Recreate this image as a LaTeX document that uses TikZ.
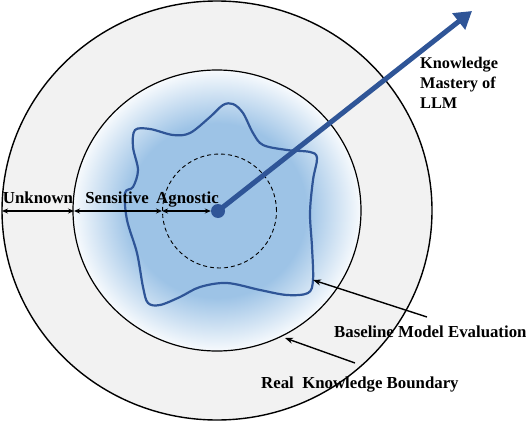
\documentclass[tikz,border=0pt]{standalone}
\usepackage{fontspec}
\setmainfont{Liberation Serif}
\usetikzlibrary{arrows.meta}
\definecolor{ringgray}{HTML}{F2F2F2}
\definecolor{coreblue}{RGB}{157,195,230}
\definecolor{edgeblue}{RGB}{47,85,151}
\pgfdeclareradialshading{coreshade}{\pgfpoint{0bp}{0bp}}{color(0bp)=(coreblue); color(15.5bp)=(coreblue); color(25bp)=(coreblue!8!white); color(50bp)=(white)}
\begin{document}
\begin{tikzpicture}[x=1pt,y=-1pt,
  lbl/.style={font=\fontsize{16.8}{20}\selectfont\bfseries, inner sep=0pt},
  dim/.style={line width=1.1pt, {Stealth[length=6pt,width=5pt]}-{Stealth[length=6pt,width=5pt]}},
  ptr/.style={line width=1.4pt, -{Stealth[length=8pt,width=6pt]}}]
\useasboundingbox (0,0) rectangle (526,422);
% outer ring
\path[fill=ringgray, draw=black, line width=1.4pt] (217,210.5) ellipse [x radius=215pt, y radius=209.5pt];
% middle disc
\path[shading=coreshade, draw=black, line width=1.2pt] (217,210.5) ellipse [x radius=144pt, y radius=140.5pt];
% blob
\draw[edgeblue, line width=2.2pt] plot[smooth cycle, tension=0.55] coordinates {
 (135,130) (150,129) (173,135) (190,133) (210,117) (223,105) (233,104) (243,113)
 (253,133) (263,145) (287,150) (310,152) (317,158) (313,180) (310,213) (312,247)
 (313,280) (308,293) (287,295) (260,290) (227,283) (200,287) (180,297) (160,305)
 (148,303) (143,287) (137,253) (127,220) (125,193) (133,187) (138,170) (133,147)};
% dashed circle
\draw[dash pattern=on 4pt off 3pt, line width=0.9pt] (219.5,211) circle [radius=57pt];
% center dot and arrow
\node[circle, fill=edgeblue, minimum size=14pt, inner sep=0pt] (dot) at (218,211) {};
\coordinate (tip) at (472,11);
\draw[edgeblue, line width=5pt, -{Triangle[length=17pt,width=20pt]}] (dot.center) -- (tip);
% dimension arrows
\coordinate (ol) at (2,211);
\coordinate (ml) at (74,211);
\coordinate (dl) at (162,211);
\draw[dim] (ol) -- (ml);
\draw[dim] (ml) -- (dl);
\draw[dim] (dl) -- (dot.west);
\node[lbl, anchor=base] (unk) at (38,203) {Unknown};
\node[lbl, anchor=base] (sen) at (117,203) {Sensitive};
\node[lbl, anchor=base] (agn) at (187.5,203) {Agnostic};
% knowledge mastery label
\node[lbl, font=\fontsize{16.3}{20}\selectfont\bfseries, anchor=north west, align=left] (km) at (420,57) {Knowledge\\Mastery of\\LLM};
% bottom labels
\node[lbl, anchor=base west] (bme) at (334,337) {Baseline Model Evaluation};
\node[lbl, anchor=base west] (rkb) at (261,388) {Real\ \ Knowledge Boundary};
\coordinate (bmeFrom) at (427,317);
\coordinate (blobPt) at (313,280);
\coordinate (rkbFrom) at (355,363);
\coordinate (ringPt) at (285,338);
\draw[ptr] (bmeFrom) -- (blobPt);
\draw[ptr] (rkbFrom) -- (ringPt);
\end{tikzpicture}
\end{document}
